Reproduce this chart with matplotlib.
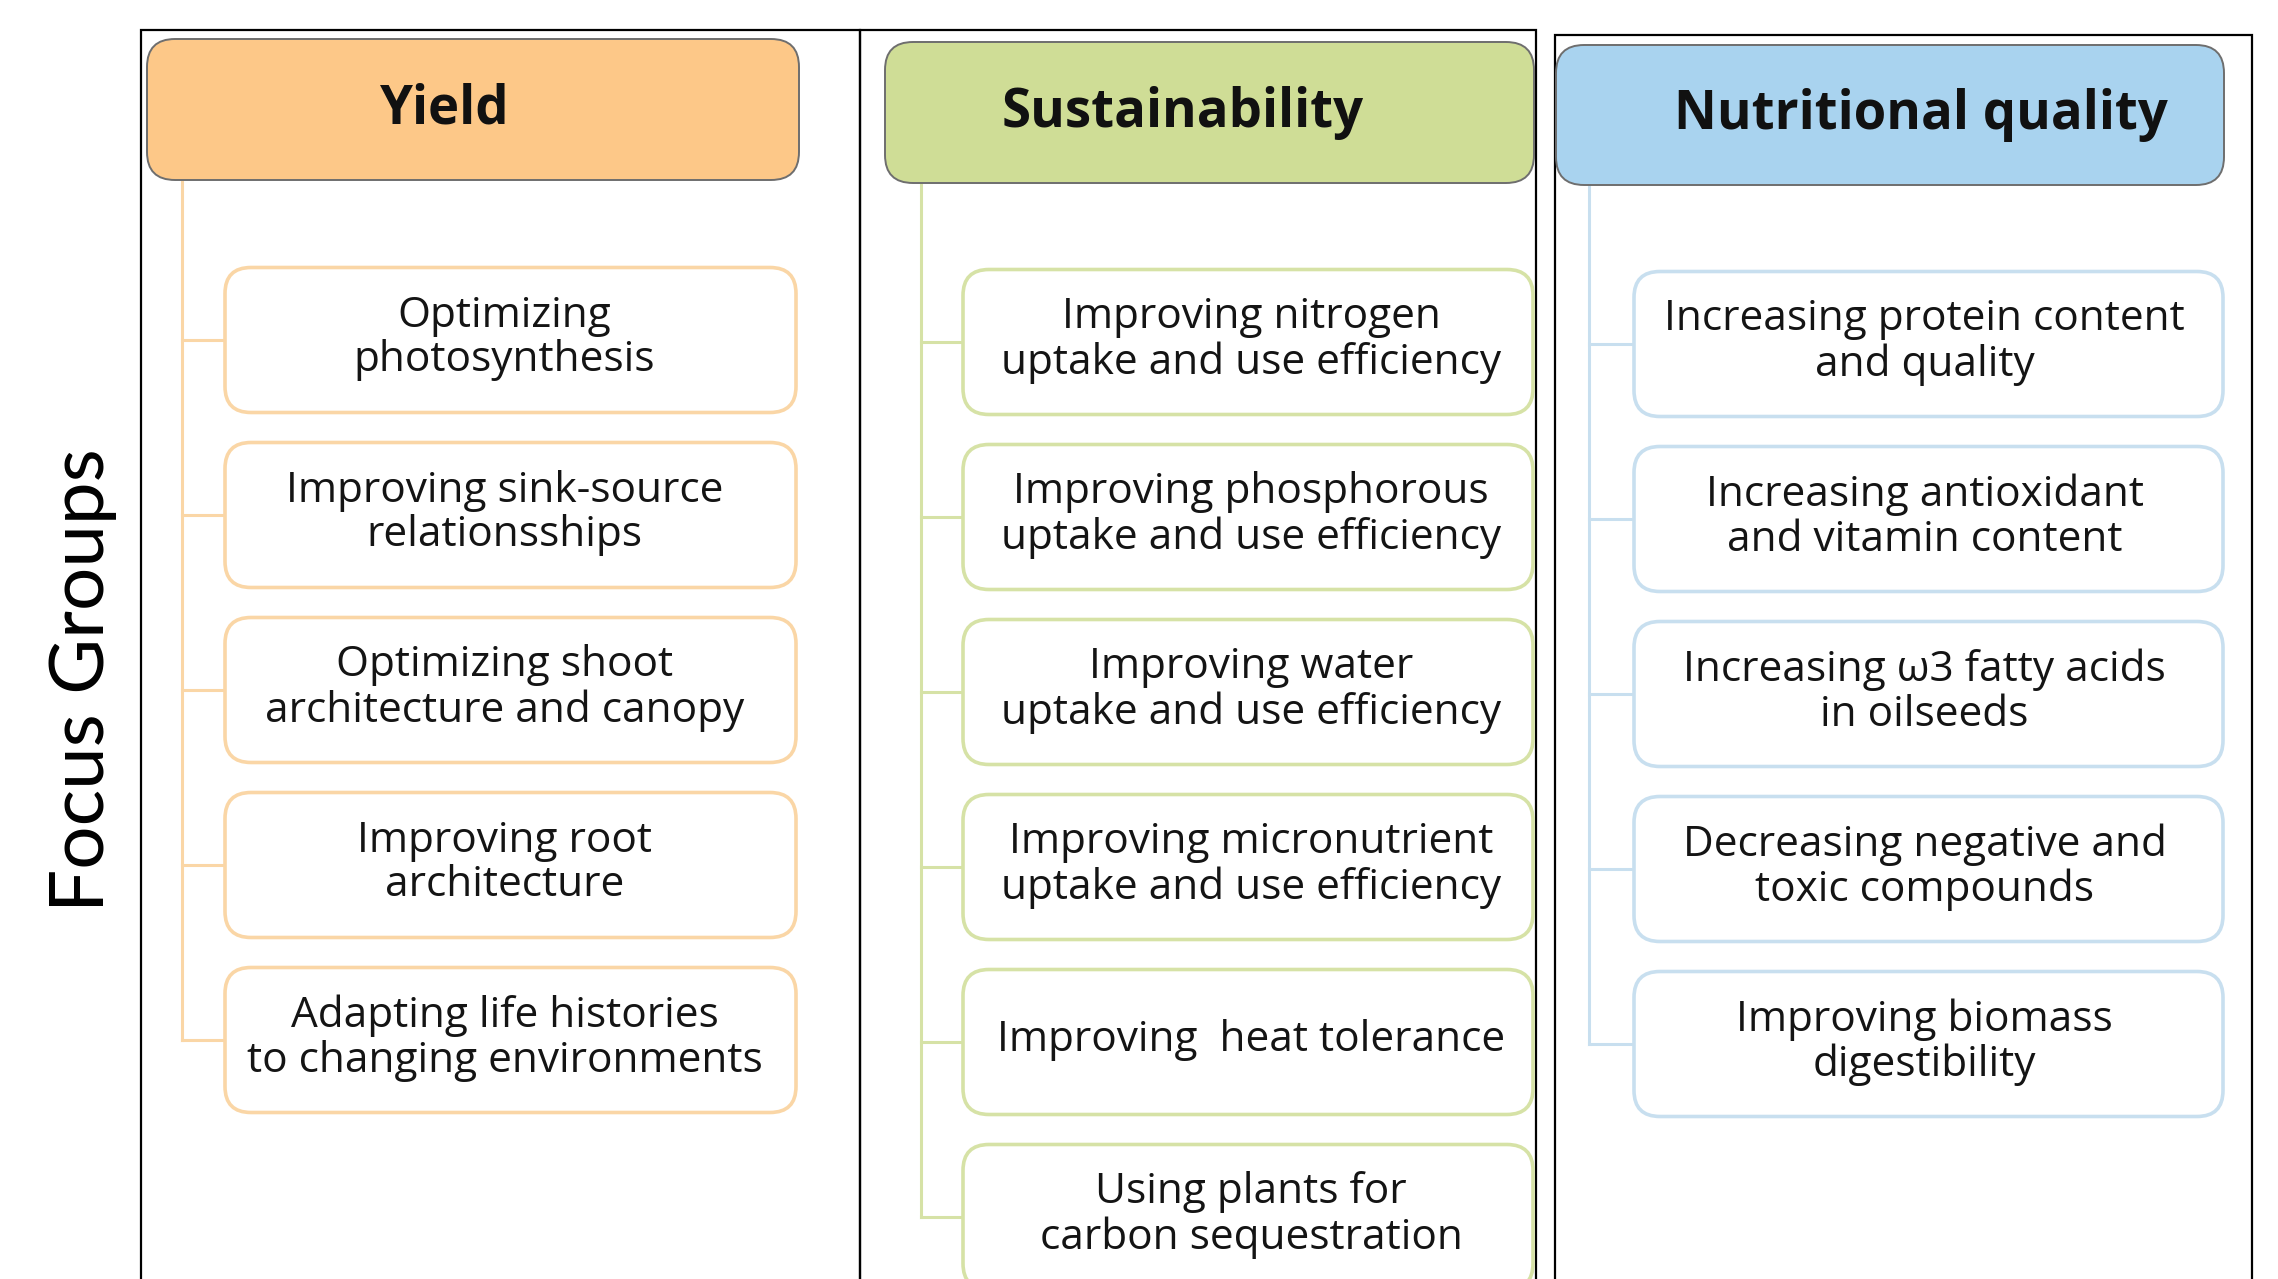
import matplotlib.pyplot as plt
from matplotlib.patches import FancyBboxPatch

# focus groups and their sub-topics
groups = ["Yield", "Sustainability", "Nutritional quality"]
yield_items = [
    "Optimizing\nphotosynthesis",
    "Improving sink-source\nrelationsships",
    "Optimizing shoot\narchitecture and canopy",
    "Improving root\narchitecture",
    "Adapting life histories\nto changing environments",
]
sustainability_items = [
    "Improving nitrogen\nuptake and use efficiency",
    "Improving phosphorous\nuptake and use efficiency",
    "Improving water\nuptake and use efficiency",
    "Improving micronutrient\nuptake and use efficiency",
    "Improving  heat tolerance",
    "Using plants for\ncarbon sequestration",
]
nutrition_items = [
    "Increasing protein content\nand quality",
    "Increasing antioxidant\nand vitamin content",
    "Increasing \u03c93 fatty acids\nin oilseeds",
    "Decreasing negative and\ntoxic compounds",
    "Improving biomass\ndigestibility",
]
items = [yield_items, sustainability_items, nutrition_items]

head_colors = ["#FDC888", "#CFDD96", "#A9D3EF"]
line_colors = ["#FAD6A6", "#D6E2A6", "#C8DFEF"]

W, H = 2278, 1279
fig = plt.figure(figsize=(W / 100, H / 100), dpi=100)
ax = fig.add_axes([0, 0, 1, 1])
ax.set_xlim(0, W)
ax.set_ylim(H, 0)
ax.axis("off")

# layout (pixels)
panels = [(141, 860, 30), (860, 1536, 30), (1555, 2252, 35)]
heads = [(147, 799, 39, 180), (885, 1534, 42, 183), (1556, 2224, 45, 185)]
head_dx = [-28, -27, 31]
boxes_x = [(225, 796), (963, 1533), (1634, 2223)]
text_dx = [-6, 3, -4]
trunk_x = [182, 921, 1589]
first_cy = [340, 342, 344]
pitch = 175
box_h = 145

for k, name in enumerate(groups):
    x0, x1, top = panels[k]
    ax.plot([x0, x0, x1, x1], [H + 5, top, top, H + 5], color="black", lw=1.6,
            solid_joinstyle="miter", zorder=1)

    hx0, hx1, hy0, hy1 = heads[k]
    ax.add_patch(FancyBboxPatch((hx0, hy0), hx1 - hx0, hy1 - hy0,
                                boxstyle="round,pad=0,rounding_size=28",
                                fc=head_colors[k], ec="#6E6E6E", lw=1.4, zorder=3))
    ax.text((hx0 + hx1) / 2 + head_dx[k], (hy0 + hy1) / 2, name, ha="center",
            va="center", fontsize=38, fontweight="bold", family="Open Sans",
            color="#111111", zorder=4)

    bx0, bx1 = boxes_x[k]
    cys = [first_cy[k] + i * pitch for i in range(len(items[k]))]
    ax.plot([trunk_x[k], trunk_x[k]], [hy1, cys[-1]], color=line_colors[k], lw=2.2, zorder=2)
    for cy, label in zip(cys, items[k]):
        ax.plot([trunk_x[k], bx0], [cy, cy], color=line_colors[k], lw=2.2, zorder=2)
        ax.add_patch(FancyBboxPatch((bx0, cy - box_h / 2), bx1 - bx0, box_h,
                                    boxstyle="round,pad=0,rounding_size=26",
                                    fc="white", ec=line_colors[k], lw=2.6, zorder=3))
        ax.text((bx0 + bx1) / 2 + text_dx[k], cy - 2, label, ha="center", va="center",
                fontsize=30.5, family="Open Sans", color="#141414",
                linespacing=1.09, zorder=4)

ax.text(83, 680, "Focus Groups", rotation=90, ha="center", va="center",
        fontsize=55, family="Lato", color="black")

fig.savefig("out.png", dpi=100)
